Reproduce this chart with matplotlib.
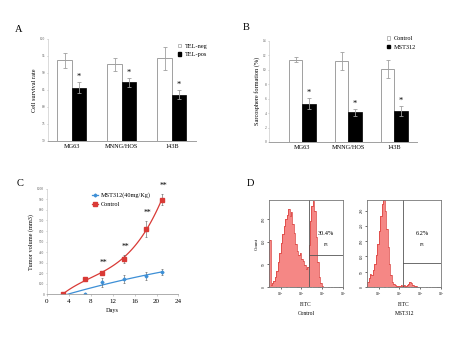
import numpy as np
import matplotlib
matplotlib.use("Agg")
import matplotlib.pyplot as plt
from matplotlib.lines import Line2D
from matplotlib.patches import Patch

plt.rcParams['font.family'] = ['Liberation Serif', 'DejaVu Serif']

# panel A: cell survival rate
cells = ['MG63', 'MNNG/HOS', '143B']
tel_neg = [93.7, 92.5, 94.3]
tel_neg_err = [2.1, 2.0, 3.3]
tel_pos = [85.7, 87.2, 83.6]
tel_pos_err = [1.7, 1.4, 1.4]

# panel B: sarcosphere formation (%)
ctrl_sphere = [11.4, 11.2, 10.1]
ctrl_sphere_err = [0.35, 1.3, 1.3]
mst_sphere = [5.3, 4.1, 4.3]
mst_sphere_err = [0.75, 0.5, 0.65]

# panel C: tumor volume
days_ctrl = [3, 7, 10, 14, 18, 21]
vol_ctrl = [0, 143, 200, 333, 619, 898]
vol_ctrl_err = [5, 12, 22, 35, 80, 50]
days_mst = [3, 7, 10, 14, 18, 21]
vol_mst = [0, 5, 110, 143, 172, 212]
vol_mst_err = [0, 3, 45, 35, 35, 30]
star_days = [10, 14, 18, 21]

# panel D: flow cytometry histograms (log10 FITC bins)
fitc_edges = np.arange(1.45, 5.03, 0.07)
count_ctrl = [105, 4, 8, 14, 22, 36, 55, 76, 98, 118, 134, 150, 160, 172, 158,
              166, 140, 120, 96, 80, 70, 75, 62, 58, 48, 40, 45, 92, 146, 180,
              190, 168, 110, 55, 22, 8, 3, 1, 0, 0, 0, 0, 0, 0, 0, 0, 0, 0,
              0, 0, 0]
count_mst = [18, 30, 42, 38, 55, 76, 105, 140, 182, 232, 270, 284, 250, 190,
             130, 75, 38, 18, 10, 6, 4, 5, 4, 6, 5, 7, 5, 6, 10, 18, 14, 6, 3,
             2, 0, 0, 0, 0, 0, 0, 0, 0, 0, 0, 0, 0, 0, 0, 0, 0, 0]
gate_ctrl = 10 ** 3.36
gate_mst = 10 ** 3.15

fig = plt.figure(figsize=(4.6, 3.48), dpi=100)
grey = '#a0a0a0'
red = '#d93a36'
blue = '#3d8fd6'


def bar_panel(ax, a, a_err, b, b_err, names, ylim, yticks, ylabel, xlim, leg_at):
    x = np.arange(len(cells))
    w = 0.29
    ax.bar(x - w / 2, a, w, yerr=a_err, color='white', edgecolor=grey, lw=0.7,
           error_kw=dict(ecolor=grey, elinewidth=0.6, capsize=1.2, capthick=0.6))
    ax.bar(x + w / 2, b, w, yerr=b_err, color='black', edgecolor='black', lw=0.5,
           error_kw=dict(ecolor=grey, elinewidth=0.6, capsize=1.2, capthick=0.6))
    rng = ylim[1] - ylim[0]
    for xi, v, e in zip(x, b, b_err):
        ax.text(xi + w / 2, v + e + 0.01 * rng, '*', ha='center', va='bottom',
                fontsize=6)
    ax.set_ylim(ylim)
    ax.set_xlim(xlim)
    ax.set_yticks(yticks)
    ax.tick_params(axis='y', labelsize=2.5, length=1, width=0.4, colors=grey,
                   labelcolor='#555555', pad=1)
    ax.set_xticks(x)
    ax.set_xticklabels(cells, fontsize=4.5)
    ax.tick_params(axis='x', length=0, pad=2)
    ax.set_ylabel(ylabel, fontsize=4.5, labelpad=2)
    for s in ['top', 'right']:
        ax.spines[s].set_visible(False)
    ax.spines['left'].set_color('#cccccc')
    ax.spines['bottom'].set_color(grey)
    ax.spines['left'].set_linewidth(0.5)
    ax.spines['bottom'].set_linewidth(0.7)
    handles = [Patch(facecolor='white', edgecolor=grey, lw=0.5),
               Patch(facecolor='black', edgecolor='black')]
    ax.legend(handles, names, loc='upper left', frameon=False, fontsize=4.5,
              handlelength=0.5, handleheight=0.5, handletextpad=0.6,
              labelspacing=0.6, borderaxespad=0, bbox_to_anchor=leg_at)


axA = fig.add_axes([0.104, 0.595, 0.322, 0.293])
bar_panel(axA, tel_neg, tel_neg_err, tel_pos, tel_pos_err,
          ['TEL-neg', 'TEL-pos'], (70, 100), np.arange(70, 101, 5),
          'Cell survival rate', (-0.48, 2.48), (0.86, 0.98))

axB = fig.add_axes([0.585, 0.592, 0.322, 0.291])
bar_panel(axB, ctrl_sphere, ctrl_sphere_err, mst_sphere, mst_sphere_err,
          ['Control', 'MST312'], (0, 14), np.arange(0, 15, 2),
          'Sarcosphere formation (%)', (-0.72, 2.5), (0.78, 1.07))

# panel C
axC = fig.add_axes([0.102, 0.155, 0.286, 0.302])
xs = np.linspace(3, 21, 100)
fit_c = np.polyfit(days_ctrl, vol_ctrl, 3)
fit_m = np.polyfit(days_mst, vol_mst, 2)
axC.plot(xs, np.polyval(fit_c, xs), color=red, lw=0.9)
axC.plot(xs, np.polyval(fit_m, xs), color=blue, lw=0.9)
axC.errorbar(days_mst, vol_mst, yerr=vol_mst_err, fmt='D', ms=1.5, color=blue,
             ecolor='#555555', elinewidth=0.4, capsize=1, capthick=0.4)
axC.errorbar(days_ctrl, vol_ctrl, yerr=vol_ctrl_err, fmt='s', ms=2.2, color=red,
             ecolor='#555555', elinewidth=0.4, capsize=1, capthick=0.4)
for d, v, e in zip(days_ctrl, vol_ctrl, vol_ctrl_err):
    if d in star_days:
        axC.text(d + 0.3, v + e + 40, '**', ha='center', va='bottom',
                 fontsize=5.5, clip_on=False)
axC.set_xlim(0, 24)
axC.set_ylim(0, 1000)
axC.set_xticks(np.arange(0, 25, 4))
axC.set_yticks(np.arange(0, 1001, 100))
axC.tick_params(axis='x', labelsize=5, length=1.5, width=0.4, colors=grey,
                labelcolor='black', pad=2)
axC.tick_params(axis='y', labelsize=2.5, length=1, width=0.4, colors=grey,
                labelcolor='#555555', pad=1)
axC.set_xlabel('Days', fontsize=4.5, labelpad=3)
axC.set_ylabel('Tumor volume (mm3)', fontsize=4.5, labelpad=2)
for s in ['top', 'right']:
    axC.spines[s].set_visible(False)
axC.spines['left'].set_color('#cccccc')
axC.spines['bottom'].set_color(grey)
axC.spines['left'].set_linewidth(0.5)
axC.spines['bottom'].set_linewidth(0.6)
leg_h = [Line2D([], [], color=blue, marker='D', ms=1.5, lw=0.9),
         Line2D([], [], color=red, marker='s', ms=2.2, lw=0.9)]
axC.legend(leg_h, ['MST312(40mg/Kg)', 'Control'], loc='upper left',
           bbox_to_anchor=(0.3, 1.02), frameon=False, fontsize=4.5,
           handlelength=1.0, handletextpad=0.4, labelspacing=0.5)


# panel D
def flow_panel(ax, counts, ymax, yticks, gate, hline, pct, name, ylabel):
    ax.stairs(counts, 10 ** fitc_edges, fill=True, color='#f47a78', alpha=0.9)
    ax.stairs(counts, 10 ** fitc_edges, color=red, lw=0.5)
    ax.set_xscale('log')
    ax.set_xlim(10 ** 1.45, 10 ** 5)
    ax.set_ylim(0, ymax)
    ax.set_yticks(yticks)
    ax.set_xticks([1e2, 1e3, 1e4, 1e5])
    ax.tick_params(axis='both', which='major', labelsize=2.5, length=1.5,
                   width=0.4, pad=1)
    ax.tick_params(axis='x', which='minor', length=1, width=0.3)
    ax.tick_params(axis='y', labelrotation=90)
    for lab in ax.get_yticklabels():
        lab.set_va('center')
    for s in ax.spines.values():
        s.set_color('#777777')
        s.set_linewidth(0.6)
    ax.axvline(gate, color='#555555', lw=0.6)
    ax.plot([gate, 10 ** 5], [hline, hline], color='#555555', lw=0.6)
    mid = 10 ** ((np.log10(gate) + 5) / 2)
    ax.text(mid, ymax * 0.62, pct, ha='center', va='center', fontsize=4.5)
    ax.text(mid, ymax * 0.48, 'P3', ha='center', va='center', fontsize=3.2)
    ax.set_xlabel('FITC\n' + name, fontsize=4, labelpad=3, linespacing=2.0)
    if ylabel:
        ax.set_ylabel('Count', fontsize=3.5, labelpad=2)


axD1 = fig.add_axes([0.585, 0.175, 0.161, 0.25])
flow_panel(axD1, count_ctrl, 192, [0, 50, 100, 150], gate_ctrl, 70, '30.4%',
           'Control', True)
axD2 = fig.add_axes([0.798, 0.175, 0.161, 0.25])
flow_panel(axD2, count_mst, 284, [0, 50, 100, 150, 200, 250], gate_mst, 80,
           '6.2%', 'MST312', False)

for lab, x, y in [('A', 15, 29), ('B', 243, 28), ('C', 17, 184), ('D', 247, 184)]:
    fig.text(x / 460, 1 - y / 348, lab, fontsize=7.5, ha='left', va='center')

fig.savefig('out.png', dpi=100)
